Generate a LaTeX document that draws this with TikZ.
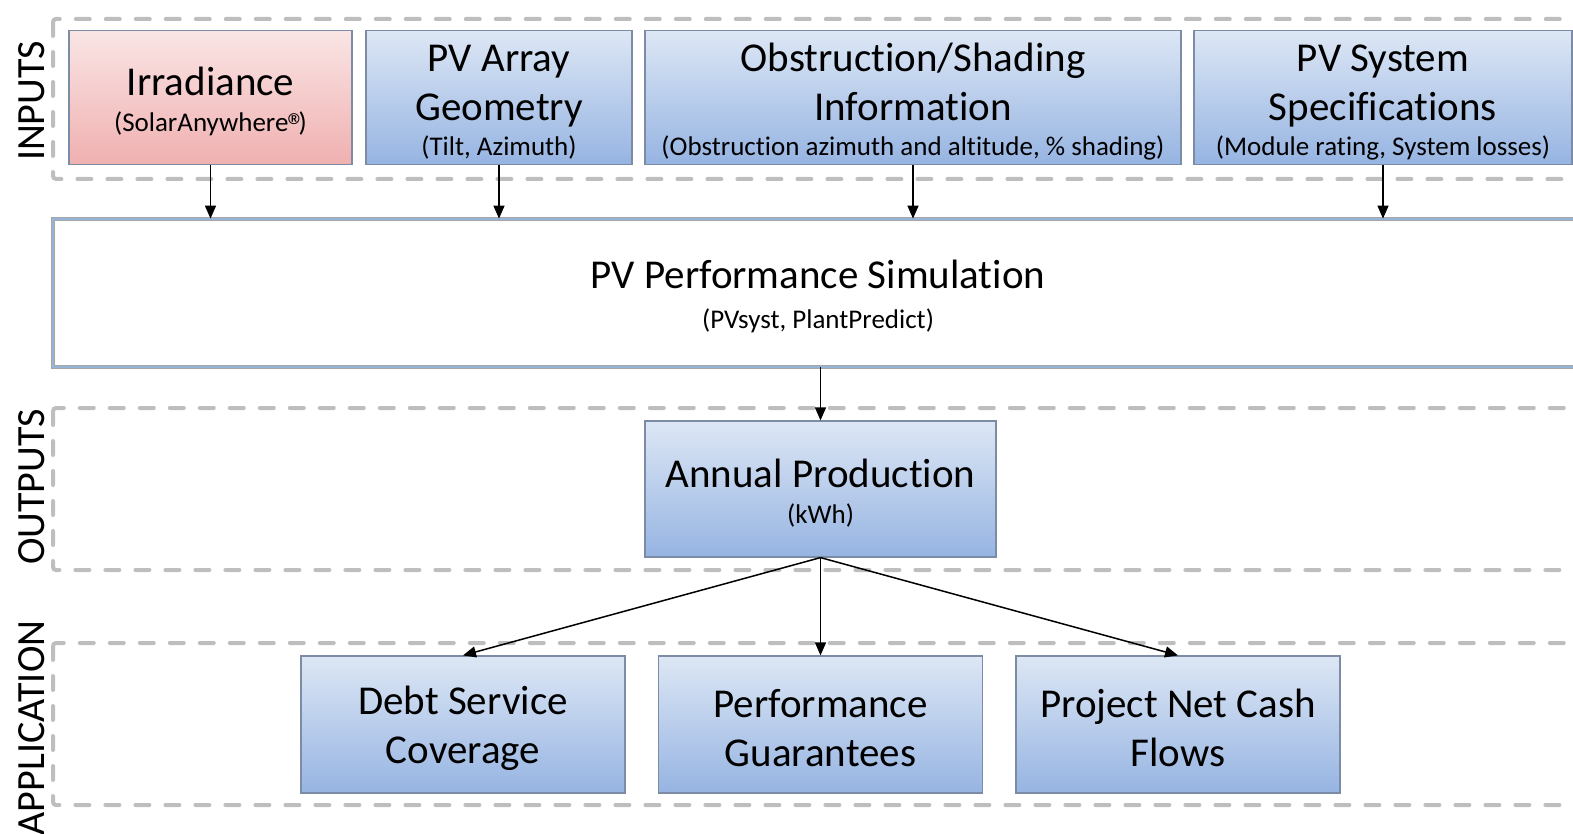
\documentclass[tikz,border=0pt]{standalone}
\usepackage{fontspec}
\setmainfont{Carlito}[Ligatures=NoCommon]
\usetikzlibrary{arrows.meta}

\definecolor{boxtop}{RGB}{221,231,245}
\definecolor{boxbot}{RGB}{150,180,226}
\definecolor{boxline}{RGB}{125,140,165}
\definecolor{pinktop}{RGB}{250,229,229}
\definecolor{pinkbot}{RGB}{240,176,176}
\definecolor{framegray}{RGB}{190,190,190}
\definecolor{simblue}{RGB}{150,180,216}

\newcommand{\bigtxt}{\fontsize{41}{49}\selectfont}
\newcommand{\subtxt}{\fontsize{27}{32}\selectfont}
\newcommand{\regmark}{\smash{\raisebox{-7pt}{\fontsize{36}{36}\selectfont\kern-1pt ®}}\kern-7pt}

\begin{document}
\begin{tikzpicture}[x=1pt, y=-1pt,
		frame/.style={draw=framegray, line width=4pt, dash pattern=on 14pt off 16pt, line cap=round, rounded corners=3pt},
		bluebox/.style={draw=boxline, line width=1.2pt, top color=boxtop, bottom color=boxbot, minimum height=134pt, inner sep=0pt, align=center, font=\bigtxt},
		pinkbox/.style={bluebox, top color=pinktop, bottom color=pinkbot},
		simbox/.style={draw=gray!70, double=simblue, double distance=2pt, line width=0.8pt, fill=white, minimum width=1530pt, minimum height=148pt, inner sep=0pt, align=center, font=\bigtxt},
		side/.style={rotate=90, font=\fontsize{40}{46}\selectfont},
		link/.style={line width=1.5pt, -{Triangle[length=13pt,width=11pt]}}]
			\useasboundingbox (0,0) rectangle (1573,834);
			% dashed bands
			\draw[frame] (53,19) rectangle (1610,179);
			\draw[frame] (53,408) rectangle (1610,570);
			\draw[frame] (53,643) rectangle (1610,805);
			\node[side] (inlab) at (32,101) {INPUTS};
			\node[side] (outlab) at (32,487) {OUTPUTS};
			\node[side] (applab) at (32,728) {APPLICATION};
			% inputs
			\node[pinkbox, minimum width=283pt] (irr) at (210.5,97.5) {\rule{0pt}{36pt}Irradiance\\[-13pt]{\subtxt (SolarAnywhere\regmark)}};
			\node[bluebox, minimum width=266pt] (arr) at (499,97.5) {\rule{0pt}{36pt}PV Array\\Geometry\\[-14pt]{\subtxt (Tilt, Azimuth)}};
			\node[bluebox, minimum width=536pt] (obs) at (913,97.5) {\rule{0pt}{36pt}Obstruction/Shading\\Information\\[-14pt]{\subtxt (Obstruction azimuth and altitude, \% shading)}};
			\node[bluebox, minimum width=378pt] (sys) at (1383,97.5) {\rule{0pt}{36pt}PV System\\Specifications\\[-14pt]{\subtxt (Module rating, System losses)}};
			% simulation
			\node[simbox] (sim) at (818,293) {\rule{0pt}{36pt}PV Performance Simulation\\[-9pt]{\subtxt (PVsyst, PlantPredict)}};
			% outputs
			\node[bluebox, minimum width=351pt, minimum height=136pt] (ann) at (820.5,489) {\rule{0pt}{36pt}Annual Production\\[-13pt]{\subtxt (kWh)}};
			% application
			\node[bluebox, minimum width=324pt, minimum height=137pt] (debt) at (463,724.5) {\rule{0pt}{36pt}Debt Service\\Coverage};
			\node[bluebox, minimum width=324pt, minimum height=137pt] (perf) at (820.5,724.5) {\rule{0pt}{36pt}Performance\\Guarantees};
			\node[bluebox, minimum width=324pt, minimum height=137pt] (cash) at (1178,724.5) {\rule{0pt}{36pt}Project Net Cash\\Flows};
			% arrows
			\foreach \b in {irr, arr, obs, sys}
				\draw[link] (\b.south) -- (\b.south |- sim.north);
			\draw[link] (ann.north |- sim.south) -- (ann.north);
			\foreach \b in {debt, perf, cash}
				\draw[link] (ann.south) -- (\b.north);
		\end{tikzpicture}
\end{document}
